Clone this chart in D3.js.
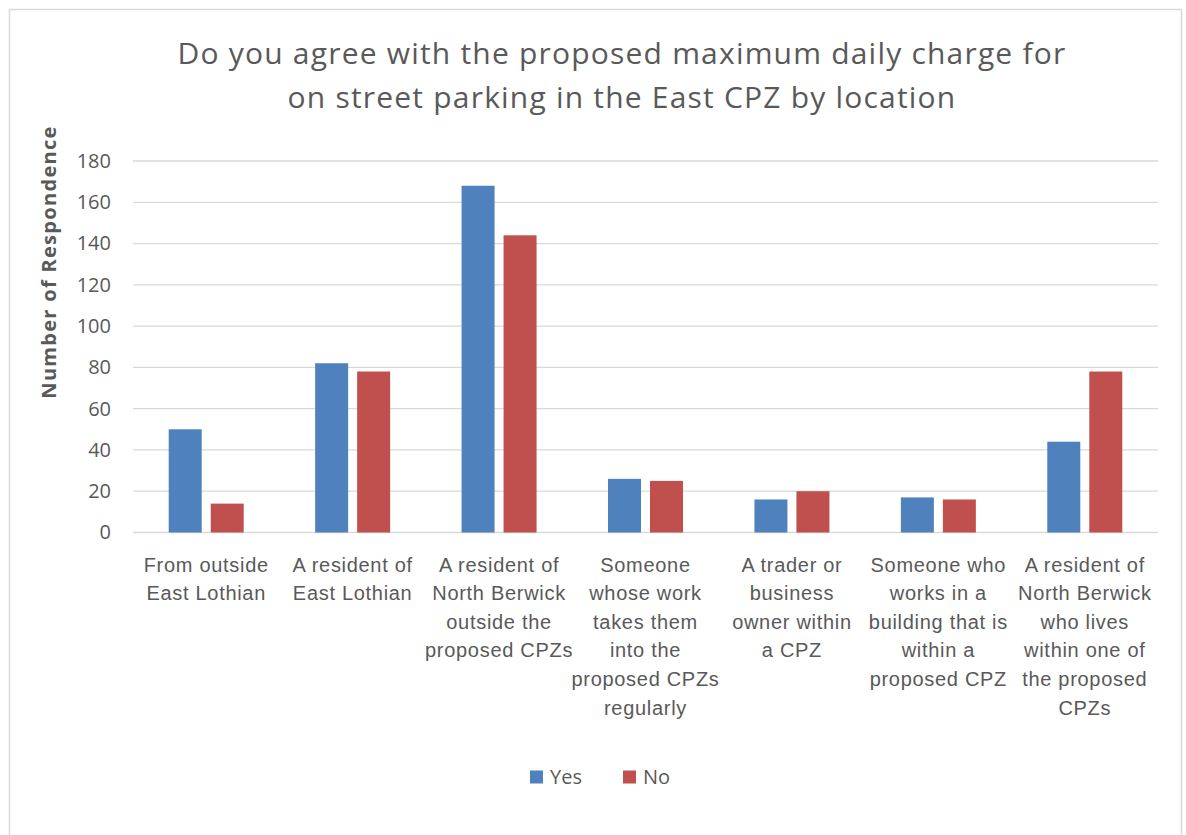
<!DOCTYPE html>
<html>
<head>
<meta charset="utf-8">
<script src="https://cdn.jsdelivr.net/npm/d3@7"></script>
<style>
  html, body { margin: 0; padding: 0; background: #fff; }
  svg { display: block; font-family: "Open Sans", sans-serif; }
</style>
</head>
<body>
<svg id="chart" width="1186" height="835"></svg>
<script>
// Respondent locations (line breaks mark how each axis label wraps)
const categories = [
  "From outside\nEast Lothian",
  "A resident of\nEast Lothian",
  "A resident of\nNorth Berwick\noutside the\nproposed CPZs",
  "Someone\nwhose work\ntakes them\ninto the\nproposed CPZs\nregularly",
  "A trader or\nbusiness\nowner within\na CPZ",
  "Someone who\nworks in a\nbuilding that is\nwithin a\nproposed CPZ",
  "A resident of\nNorth Berwick\nwho lives\nwithin one of\nthe proposed\nCPZs"
];
const seriesNames = ["Yes", "No"];
const yesValues = [50, 82, 168, 26, 16, 17, 44];
const noValues  = [14, 78, 144, 25, 20, 16, 78];
const yTicks = [0, 20, 40, 60, 80, 100, 120, 140, 160, 180];
const titleLines = [
  "Do you agree with the proposed maximum daily charge for",
  "on street parking in the East CPZ by location"
];
const yAxisTitle = "Number of Respondence";

const colors = { Yes: "#4f81bd", No: "#c0504d" };
const textColor = "#595959";

const svg = d3.select("#chart");

// chart area frame
svg.append("rect")
  .attr("x", 9.5).attr("y", 9.5)
  .attr("width", 1172).attr("height", 840)
  .attr("fill", "#fff").attr("stroke", "#d9d9d9").attr("stroke-width", 1.5);

const plot = { left: 133, right: 1158, top: 161, bottom: 532.5 };

const x0 = d3.scaleBand().domain(d3.range(categories.length))
  .range([plot.left, plot.right]).padding(0);
const groupWidth = 75;
const x1 = d3.scaleBand().domain(seriesNames)
  .range([0, groupWidth]).paddingInner(9 / 42);
const y = d3.scaleLinear().domain([0, 180]).range([plot.bottom, plot.top]);

// gridlines
svg.append("g")
  .selectAll("line").data(yTicks).join("line")
  .attr("x1", plot.left).attr("x2", plot.right)
  .attr("y1", d => y(d)).attr("y2", d => y(d))
  .attr("stroke", "#d9d9d9").attr("stroke-width", 1.3);

// y axis labels
const yAxis = d3.axisLeft(y).tickValues(yTicks).tickSize(0).tickPadding(0);
const yg = svg.append("g").attr("transform", `translate(111,0)`).call(yAxis);
yg.select(".domain").remove();
yg.selectAll("text").attr("fill", textColor).attr("font-size", 20)
  .attr("font-family", "'Open Sans', sans-serif");

// bars
const rows = categories.map((c, i) => ({ i, Yes: yesValues[i], No: noValues[i] }));
const groups = svg.append("g").selectAll("g").data(rows).join("g")
  .attr("transform", d => `translate(${x0(d.i) + (x0.bandwidth() - groupWidth) / 2},0)`);
groups.selectAll("rect")
  .data(d => seriesNames.map(k => ({ key: k, value: d[k] })))
  .join("rect")
  .attr("x", d => x1(d.key))
  .attr("width", x1.bandwidth())
  .attr("y", d => y(d.value))
  .attr("height", d => y(0) - y(d.value))
  .attr("fill", d => colors[d.key]);

// x axis category labels
const xAxis = d3.axisBottom(x0).tickSize(0).tickFormat(() => "");
const xg = svg.append("g").attr("transform", `translate(0,${plot.bottom})`).call(xAxis);
xg.select(".domain").remove();
xg.selectAll(".tick").each(function(d) {
  const t = d3.select(this).append("text")
    .attr("fill", textColor).attr("font-size", 20)
    .attr("letter-spacing", 0.7)
    .attr("text-anchor", "middle");
  categories[d].split("\n").forEach((line, k) => {
    t.append("tspan").attr("x", 0).attr("y", 39 + k * 28.6).text(line);
  });
});

// title
const title = svg.append("text")
  .attr("x", 622).attr("text-anchor", "middle")
  .attr("fill", textColor).attr("font-size", 30)
  .attr("letter-spacing", 1.2);
titleLines.forEach((line, k) => {
  title.append("tspan").attr("x", 622).attr("y", 64 + k * 44).text(line);
});

// y axis title
svg.append("text")
  .attr("transform", `translate(56,262) rotate(-90)`)
  .attr("text-anchor", "middle")
  .attr("fill", textColor).attr("font-size", 20).attr("font-weight", "bold")
  .attr("letter-spacing", 1.3)
  .text(yAxisTitle);

// legend
const legend = svg.append("g").attr("transform", "translate(530,777)");
const items = legend.selectAll("g").data(seriesNames).join("g")
  .attr("transform", (d, i) => `translate(${i * 93},0)`);
items.append("rect")
  .attr("x", 0).attr("y", -6.5).attr("width", 13).attr("height", 13)
  .attr("fill", d => colors[d]);
items.append("text")
  .attr("x", 20).attr("y", 7).attr("fill", textColor).attr("font-size", 20)
  .text(d => d);
</script>
</body>
</html>
